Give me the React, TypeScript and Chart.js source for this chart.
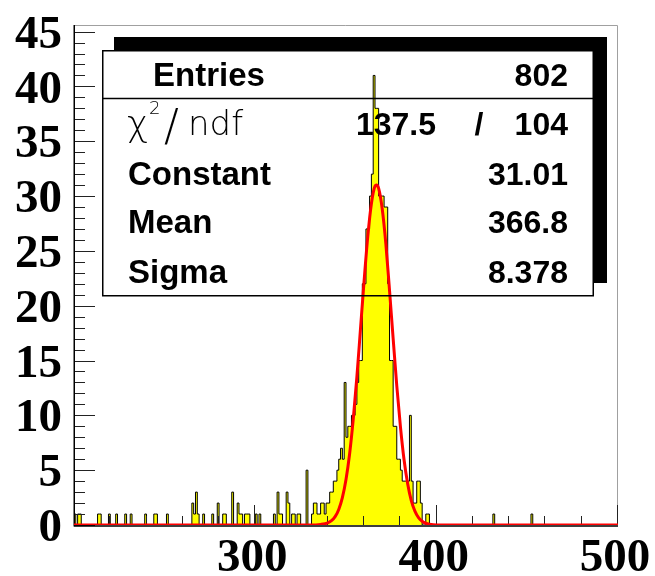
import React, { useEffect, useRef } from 'react';
import { Chart, registerables } from 'chart.js';

Chart.register(...registerables);

// ---------- data ----------
const xMin = 200;
const xMax = 500;
const yMax = 45.6;

// histogram: left edges of non-empty 1-unit bins and their contents
const binStarts = [
  200, 202, 203, 213, 214, 219, 223, 228, 231, 239, 244, 245, 251, 265, 266, 267, 268, 271, 276, 279,
  282, 283, 287, 290, 291, 292, 294, 295, 296, 300, 302, 310, 312, 313, 314, 317, 318, 320, 321, 323,
  324, 328, 331, 332, 333, 334, 335, 336, 337, 338, 339, 340, 341, 342, 343, 344, 345, 346, 347, 348,
  349, 350, 351, 352, 353, 354, 355, 356, 357, 358, 359, 360, 361, 362, 363, 364, 365, 366, 367, 368,
  369, 370, 371, 372, 373, 374, 375, 376, 377, 378, 379, 380, 381, 382, 383, 384, 385, 386, 387, 388,
  389, 390, 391, 394, 395, 431, 452,
];
const binCounts = [
  1, 1, 1, 1, 1, 1, 1, 1, 1, 1, 1, 1, 1, 2, 1, 3, 1, 1, 1, 2,
  1, 1, 3, 2, 1, 1, 1, 1, 1, 1, 1, 1, 3, 1, 1, 3, 2, 1, 1, 1,
  1, 5, 1, 2, 2, 1, 1, 2, 2, 1, 2, 2, 3, 3, 4, 4, 5, 6, 7, 6,
  13, 8, 9, 9, 10, 10, 11, 13, 15, 15, 22, 22, 27, 27, 30, 32, 41, 38, 38, 30,
  30, 30, 29, 29, 22, 15, 15, 9, 9, 6, 6, 5, 4, 4, 4, 4, 10, 4, 2, 2,
  4, 4, 2, 1, 1, 1, 1,
];

// red fit curve
const fitX = [200, 330, 336, 340, 342, 344, 346, 348, 350, 352, 354, 356, 358, 360, 362, 364, 366, 366.8,
  368, 370, 372, 374, 376, 378, 380, 382, 384, 386, 388, 390, 392, 394, 396, 400, 500];
const fitY = [0, 0, 0.05, 0.19, 0.39, 0.76, 1.42, 2.5, 4.15, 6.5, 9.65, 13.5, 17.9, 22.3, 26.3, 29.3, 30.9, 31.0,
  30.7, 28.8, 25.6, 21.4, 17.0, 12.7, 9.0, 5.97, 3.76, 2.23, 1.27, 0.67, 0.34, 0.16, 0.07, 0, 0];

const xTickValues = [300, 400, 500];
const yTickValues = [0, 5, 10, 15, 20, 25, 30, 35, 40, 45];
const xMinorStep = 20;
const yMinorStep = 1;

// stats box
const statLabels = ['Entries', 'Constant', 'Mean', 'Sigma'];
const statValues = ['802', '31.01', '366.8', '8.378'];
const chiValue = '137.5';
const ndfValue = '104';

// ---------- plugins ----------
const frameAxes = {
  id: 'frameAxes',
  afterDatasetDraw(chart: any, args: any) {
    if (args.index !== 1) return;
    const { ctx, chartArea: a, scales } = chart;
    const xs = scales.x;
    const ys = scales.y;
    ctx.save();
    // gray frame
    ctx.strokeStyle = '#a0a0a0';
    ctx.lineWidth = 1;
    ctx.beginPath();
    ctx.moveTo(a.left, a.top + 0.5);
    ctx.lineTo(a.right - 0.5, a.top + 0.5);
    ctx.lineTo(a.right - 0.5, a.bottom);
    ctx.stroke();
    // ticks
    ctx.strokeStyle = '#222';
    ctx.lineWidth = 1;
    ctx.beginPath();
    for (let v = 0; v <= yMax + 1e-6; v += yMinorStep) {
      const py = Math.round(ys.getPixelForValue(v)) + 0.5;
      const len = v % 5 === 0 ? 21 : 11;
      ctx.moveTo(a.left, py);
      ctx.lineTo(a.left + len, py);
    }
    for (let v = xMin + xMinorStep; v <= xMax; v += xMinorStep) {
      const px = Math.round(xs.getPixelForValue(v)) - 0.5;
      const len = v % 100 === 0 ? 20 : 9;
      ctx.moveTo(px, a.bottom);
      ctx.lineTo(px, a.bottom - len);
    }
    ctx.stroke();
    // axis lines
    ctx.strokeStyle = '#000';
    ctx.lineWidth = 1.5;
    ctx.beginPath();
    ctx.moveTo(a.left + 0.25, a.top);
    ctx.lineTo(a.left + 0.25, a.bottom + 1.5);
    ctx.moveTo(a.left, a.bottom + 1);
    ctx.lineTo(a.right, a.bottom + 1);
    ctx.stroke();
    ctx.restore();
  },
};

const statsBox = {
  id: 'statsBox',
  afterDraw(chart: any) {
    const { ctx } = chart;
    ctx.save();
    // shadow strips (top and right)
    ctx.fillStyle = '#000';
    ctx.fillRect(114, 37, 493, 14);
    ctx.fillRect(593, 37, 14, 246);
    // box outline
    ctx.strokeStyle = '#000';
    ctx.lineWidth = 1.5;
    ctx.strokeRect(102.75, 50.75, 490.5, 245);
    ctx.beginPath();
    ctx.moveTo(102.75, 98.5);
    ctx.lineTo(593.25, 98.5);
    ctx.stroke();

    const boldLabel = 'bold 33px "Liberation Sans", Arial, sans-serif';
    const boldValue = 'bold 32px "Liberation Sans", Arial, sans-serif';
    ctx.fillStyle = '#000';
    ctx.textBaseline = 'alphabetic';
    // Entries row
    ctx.font = boldLabel;
    ctx.textAlign = 'left';
    ctx.fillText(statLabels[0], 153, 86);
    ctx.font = boldValue;
    ctx.textAlign = 'right';
    ctx.fillText(statValues[0], 568, 86);
    // chi2 row
    ctx.textAlign = 'left';
    ctx.font = '200 36px "DejaVu Sans", sans-serif';
    ctx.fillText('χ', 127, 136);
    ctx.font = '200 18px "DejaVu Sans", sans-serif';
    ctx.fillText('2', 149, 114);
    ctx.font = '200 44px "DejaVu Sans", sans-serif';
    ctx.fillText('/', 164, 141);
    ctx.font = '200 34px "DejaVu Sans", sans-serif';
    ctx.fillText('ndf', 188, 135);
    ctx.font = boldValue;
    ctx.textAlign = 'right';
    ctx.fillText(chiValue, 436, 135);
    ctx.textAlign = 'center';
    ctx.fillText('/', 479, 135);
    ctx.textAlign = 'right';
    ctx.fillText(ndfValue, 568, 135);
    // remaining rows
    const baselines = [184.5, 233, 283];
    for (let i = 1; i < statLabels.length; i++) {
      ctx.font = boldLabel;
      ctx.textAlign = 'left';
      ctx.fillText(statLabels[i], 128, baselines[i - 1]);
      ctx.font = boldValue;
      ctx.textAlign = 'right';
      ctx.fillText(statValues[i], 568, baselines[i - 1]);
    }
    ctx.restore();
  },
};

export default function App() {
  const ref = useRef<HTMLCanvasElement | null>(null);

  useEffect(() => {
    if (!ref.current) return;
    const counts: number[] = new Array(xMax - xMin).fill(0);
    binStarts.forEach((b, k) => {
      counts[b - xMin] = binCounts[k];
    });
    const histPoints = [];
    for (let i = 0; i <= xMax - xMin; i++) {
      histPoints.push({ x: xMin + i, y: i < counts.length ? counts[i] : 0 });
    }
    const fitPoints = fitX.map((x, i) => ({ x, y: fitY[i] }));

    const axisFont = { family: '"Liberation Serif", "Times New Roman", serif', weight: 'bold' as const, size: 47 };

    const chart = new Chart(ref.current, {
      type: 'line',
      data: {
        datasets: [
          {
            data: fitPoints,
            borderColor: '#ff0000',
            borderWidth: 3,
            fill: false,
            pointRadius: 0,
            cubicInterpolationMode: 'monotone',
          },
          {
            data: histPoints,
            borderColor: '#000000',
            borderWidth: 1,
            backgroundColor: '#ffff00',
            fill: 'origin',
            stepped: 'before',
            pointRadius: 0,
          },
        ],
      },
      options: {
        responsive: false,
        animation: false,
        devicePixelRatio: 1,
        layout: { padding: { top: 25, right: 37, left: 0, bottom: 0 } },
        plugins: { legend: { display: false }, tooltip: { enabled: false } },
        scales: {
          x: {
            type: 'linear',
            min: xMin,
            max: xMax,
            grid: { display: false, drawTicks: false },
            border: { display: false },
            afterBuildTicks: (s: any) => {
              s.ticks = xTickValues.map((v) => ({ value: v }));
            },
            afterFit: (s: any) => {
              s.height = 51;
              s.paddingLeft = 0;
              s.paddingRight = 0;
            },
            ticks: {
              autoSkip: false,
              maxRotation: 0,
              minRotation: 0,
              padding: 6,
              labelOffset: -3,
              color: '#000',
              font: axisFont,
              callback: (v: any) => String(v),
            },
          },
          y: {
            type: 'linear',
            min: 0,
            max: yMax,
            grid: { display: false, drawTicks: false },
            border: { display: false },
            afterBuildTicks: (s: any) => {
              s.ticks = yTickValues.map((v) => ({ value: v }));
            },
            afterFit: (s: any) => {
              s.width = 74;
              s.paddingTop = 0;
              s.paddingBottom = 0;
            },
            ticks: {
              autoSkip: false,
              padding: 12,
              labelOffset: 4,
              color: '#000',
              font: axisFont,
              callback: (v: any) => String(v),
            },
          },
        },
      },
      plugins: [frameAxes, statsBox],
    });
    return () => chart.destroy();
  }, []);

  return (
    <div style={{ position: 'fixed', left: 0, top: 0, width: 655, height: 576, background: '#fff' }}>
      <canvas ref={ref} width={655} height={576} style={{ display: 'block' }} />
    </div>
  );
}
